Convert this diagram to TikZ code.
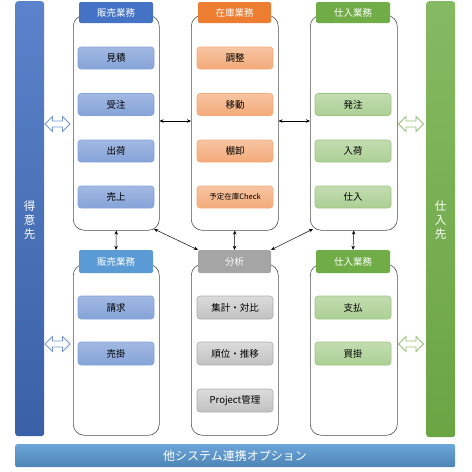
\documentclass[tikz,border=0pt]{standalone}
\usepackage{fontspec}
\newfontfamily\jp{Noto Sans CJK JP}
\usetikzlibrary{arrows.meta}
\definecolor{hblue}{HTML}{4472C4}
\definecolor{hlblue}{HTML}{5B9BD5}
\definecolor{horange}{HTML}{ED7D31}
\definecolor{hgreen}{HTML}{70AD47}
\definecolor{hgray}{HTML}{A5A5A5}
\tikzset{
  box/.style={draw=black!70, line width=0.6pt, rounded corners=11pt},
  hdr/.style={rounded corners=2pt, text=white, font=\jp\fontsize{9.5}{11}\selectfont, inner sep=0pt},
  itm/.style={rounded corners=3pt, line width=0.6pt, font=\jp\fontsize{9.5}{11}\selectfont, inner sep=0pt},
  bitm/.style={itm, draw=hblue!65, top color=hblue!50, bottom color=hblue!65},
  oitm/.style={itm, draw=horange!65, top color=horange!45, bottom color=horange!65},
  gitm/.style={itm, draw=hgreen!70, top color=hgreen!42, bottom color=hgreen!58},
  yitm/.style={itm, draw=black!32, top color=black!14, bottom color=black!24},
  conn/.style={{Stealth[length=4pt,width=3.5pt]}-{Stealth[length=4pt,width=3.5pt]}, line width=0.5pt, black},
  hollow/.style={line width=0.8pt, fill=white},
  sidetext/.style={text=white, font=\jp\fontsize{11.5}{14}\selectfont, align=center},
}
\begin{document}
\begin{tikzpicture}[x=1pt,y=-1pt]
\useasboundingbox (0,0) rectangle (472,472);
% side bars
\node[rounded corners=3pt, top color=hblue!88, bottom color=hblue!85!black, minimum width=29pt, minimum height=435pt, anchor=north west, inner sep=0pt] (cust) at (15,1) {};
\node[sidetext] (custt) at (29.5,220) {得\\意\\先};
\node[rounded corners=3pt, top color=hgreen!85, bottom color=hgreen!95!black, minimum width=29pt, minimum height=436pt, anchor=north west, inner sep=0pt] (supp) at (426,1) {};
\node[sidetext] (suppt) at (440.5,220) {仕\\入\\先};
\node[rounded corners=2pt, top color=hlblue!90, bottom color=hlblue!85!black, minimum width=440pt, minimum height=23pt, anchor=north west, inner sep=0pt] (opt) at (15,444) {};
\node[text=white, font=\jp\fontsize{12}{14}\selectfont] (optt) at (235,455.5) {他システム連携オプション};

% containers top
\node[box, minimum width=86pt, minimum height=215pt, anchor=north west, inner sep=0pt] (c1) at (73,15) {};
\node[box, minimum width=87pt, minimum height=215pt, anchor=north west, inner sep=0pt] (c2) at (191,15) {};
\node[box, minimum width=87pt, minimum height=215pt, anchor=north west, inner sep=0pt] (c3) at (310,15) {};
% containers bottom
\node[box, minimum width=86pt, minimum height=171pt, anchor=north west, inner sep=0pt] (c4) at (73,264) {};
\node[box, minimum width=87pt, minimum height=171pt, anchor=north west, inner sep=0pt] (c5) at (191,264) {};
\node[box, minimum width=87pt, minimum height=171pt, anchor=north west, inner sep=0pt] (c6) at (310,264) {};

% headers
\node[hdr, fill=hblue, minimum width=74pt, minimum height=21pt] (h1) at (116,12.5) {販売業務};
\node[hdr, fill=horange, minimum width=73pt, minimum height=21pt] (h2) at (234.5,12.5) {在庫業務};
\node[hdr, fill=hgreen, minimum width=74pt, minimum height=21pt] (h3) at (353,12.5) {仕入業務};
\node[hdr, fill=hlblue, minimum width=74pt, minimum height=23pt] (h4) at (116,261.5) {販売業務};
\node[hdr, fill=hgray, minimum width=73pt, minimum height=23pt] (h5) at (234.5,261.5) {分析};
\node[hdr, fill=hgreen, minimum width=74pt, minimum height=23pt] (h6) at (353,261.5) {仕入業務};

% items
\foreach \n/\y/\t in {a/58/見積, b/104.5/受注, c/151/出荷, d/197/売上}
  \node[bitm, minimum width=76pt, minimum height=22pt] (s\n) at (116,\y) {\t};
\foreach \n/\y/\t in {a/58/調整, b/104.5/移動, c/151/棚卸}
  \node[oitm, minimum width=76pt, minimum height=22pt] (z\n) at (235,\y) {\t};
\node[oitm, minimum width=76pt, minimum height=22pt, font=\jp\fontsize{7.5}{9}\selectfont] (zd) at (235,197) {予定在庫Check};
\foreach \n/\y/\t in {b/104.5/発注, c/151/入荷, d/197/仕入}
  \node[gitm, minimum width=76pt, minimum height=22pt] (p\n) at (353,\y) {\t};
\foreach \n/\y/\t in {a/307.5/請求, b/353.5/売掛}
  \node[bitm, minimum width=76pt, minimum height=23pt] (k\n) at (116,\y) {\t};
\foreach \n/\y/\t in {a/307.5/集計・対比, b/353.5/順位・推移, c/400.5/Project管理}
  \node[yitm, minimum width=76pt, minimum height=23pt] (y\n) at (235,\y) {\t};
\foreach \n/\y/\t in {a/307.5/支払, b/353.5/買掛}
  \node[gitm, minimum width=76pt, minimum height=23pt] (q\n) at (353,\y) {\t};

% connectors
\draw[conn] (c1.east |- 0,121) -- (c2.west |- 0,121);
\draw[conn] (c2.east |- 0,121) -- (c3.west |- 0,121);
\draw[conn] (c1.south) -- (h4.north);
\draw[conn] (c2.south) -- (h5.north);
\draw[conn] (c3.south) -- (h6.north);
\coordinate (d1) at (154,229);
\coordinate (d2) at (313,229);
\draw[conn] (d1) -- (h5.north west);
\draw[conn] (d2) -- (h5.north east);

% hollow double arrows
\foreach \cx/\cy/\col in {57.5/124/hblue, 57.5/344/hblue, 411/124/hgreen, 411/344/hgreen}{
  \draw[hollow, draw=\col!75] (\cx-12.5,\cy) -- (\cx-5,\cy-7.5) -- (\cx-5,\cy-3) -- (\cx+5,\cy-3) -- (\cx+5,\cy-7.5)
    -- (\cx+12.5,\cy) -- (\cx+5,\cy+7.5) -- (\cx+5,\cy+3) -- (\cx-5,\cy+3) -- (\cx-5,\cy+7.5) -- cycle;
}
\end{tikzpicture}
\end{document}
